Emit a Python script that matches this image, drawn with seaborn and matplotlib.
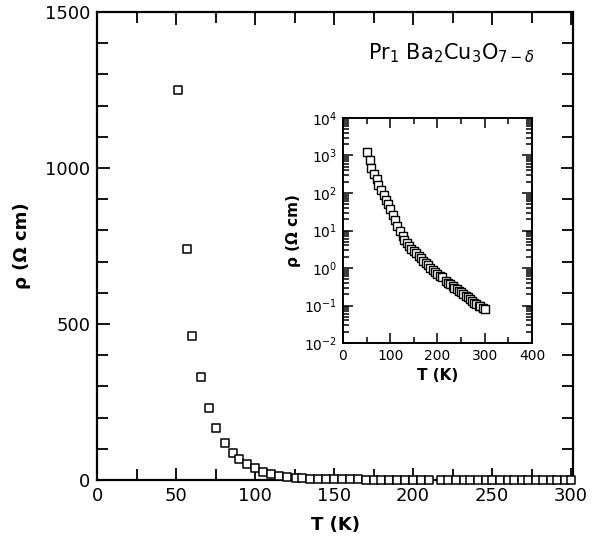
import matplotlib
matplotlib.use("Agg")
import matplotlib.pyplot as plt
import matplotlib.ticker as mticker
import seaborn as sns
import pandas as pd
import numpy as np

# Data
temperature_K = [51, 57, 60, 66, 71, 75, 81, 86, 90, 95, 100, 105, 110, 115, 120,
                 126, 130, 135, 140, 145, 150, 155, 160, 165, 170, 175, 180, 185,
                 190, 195, 200, 205, 210, 218, 222, 227, 232, 236, 241, 246, 250,
                 255, 260, 264, 269, 273, 278, 282, 287, 291, 296, 300]
resistivity = [1250, 740, 460, 330, 230, 168, 118, 86, 67, 51, 38, 26, 19, 13, 10,
               7.0, 5.6, 4.6, 3.8, 3.3, 2.9, 2.5, 2.1, 1.8, 1.55, 1.35, 1.17, 1.02,
               0.90, 0.80, 0.71, 0.63, 0.56, 0.46, 0.41, 0.37, 0.33, 0.30, 0.27,
               0.245, 0.225, 0.20, 0.18, 0.165, 0.15, 0.135, 0.12, 0.11, 0.10,
               0.095, 0.088, 0.08]

main_xticks = [0, 50, 100, 150, 200, 250, 300]
main_yticks = [0, 500, 1000, 1500]
inset_xticks = [0, 100, 200, 300, 400]

df = pd.DataFrame({"T": temperature_K, "rho": resistivity})

sns.set_style("ticks")
plt.rcParams["font.family"] = ["DejaVu Sans"]
plt.rcParams["xtick.direction"] = "in"
plt.rcParams["ytick.direction"] = "in"
plt.rcParams["text.color"] = "black"
plt.rcParams["axes.labelcolor"] = "black"
plt.rcParams["axes.edgecolor"] = "black"

fig = plt.figure(figsize=(5.97, 5.43), dpi=100)
ax = fig.add_axes([0.1625, 0.116, 0.7975, 0.862])

sns.scatterplot(data=df, x="T", y="rho", ax=ax, marker="s", s=30,
                facecolor="white", edgecolor="black", linewidth=1.1,
                clip_on=False, zorder=3)
ax.set_xlim(0, 301.3)
ax.set_ylim(0, 1500)
ax.set_xticks(main_xticks)
ax.set_yticks(main_yticks)
ax.xaxis.set_minor_locator(mticker.MultipleLocator(25))
ax.yaxis.set_minor_locator(mticker.MultipleLocator(100))
ax.tick_params(which="both", top=True, right=True, width=1.3, labelsize=13,
               colors="black")
ax.tick_params(which="major", length=9, pad=5)
ax.tick_params(which="minor", length=8)
for sp in ax.spines.values():
    sp.set_linewidth(1.6)
    sp.set_color("black")
    sp.set_visible(True)
ax.set_xlabel("T (K)", fontsize=13, fontweight="bold", labelpad=8, color="black")
ax.set_ylabel("ρ (Ω cm)", fontsize=13, fontweight="bold", labelpad=10, color="black")
ax.text(0.92, 0.912, r"Pr$_{1}$ Ba$_{2}$Cu$_{3}$O$_{7-\delta}$",
        transform=ax.transAxes, ha="right", va="center", fontsize=15, color="black")

# Inset (log scale)
ins = fig.add_axes([0.5745, 0.3683, 0.3166, 0.4144])
sns.scatterplot(data=df, x="T", y="rho", ax=ins, marker="s", s=30,
                facecolor="white", edgecolor="black", linewidth=1.0,
                zorder=3)
ins.set_yscale("log")
ins.set_xlim(0, 400)
ins.set_ylim(1e-2, 1e4)
ins.set_xticks(inset_xticks)
ins.xaxis.set_minor_locator(mticker.MultipleLocator(50))
ins.yaxis.set_major_locator(mticker.LogLocator(base=10, numticks=10))
ins.yaxis.set_minor_locator(mticker.LogLocator(base=10, subs=np.arange(2, 10), numticks=10))
ins.yaxis.set_minor_formatter(mticker.NullFormatter())
ins.tick_params(which="both", top=True, right=True, width=1.1, labelsize=10,
                colors="black")
ins.tick_params(which="major", length=7, pad=4)
ins.tick_params(which="minor", length=4)
for sp in ins.spines.values():
    sp.set_linewidth(1.4)
    sp.set_color("black")
    sp.set_visible(True)
ins.set_xlabel("T (K)", fontsize=11, fontweight="bold", labelpad=4, color="black")
ins.set_ylabel("ρ (Ω cm)", fontsize=11, fontweight="bold", labelpad=2, color="black")

fig.savefig("out.png", dpi=100)
